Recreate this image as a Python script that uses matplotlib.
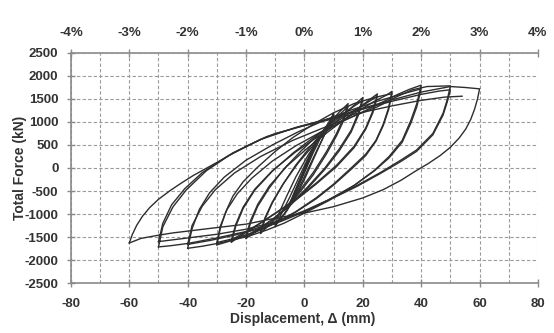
import matplotlib
matplotlib.use("Agg")
import matplotlib.pyplot as plt
from matplotlib.ticker import MultipleLocator, FuncFormatter

# Ciclos de carga: desplazamiento (mm) y fuerza total (kN)
d_c05a = [0, 2, 4, 5, 4, 2, 0, -2, -4, -5]
f_c05a = [0, 290, 560, 660, 520, 240, -40, -320, -630, -760]
d_c05b = [-5, -3, 0, 3, 5, 3, 0, -3, -5]
f_c05b = [-760, -460, -10, 420, 690, 380, -80, -520, -790]

d_c10a = [-5, -3, 0, 3, 6, 8, 10, 8.5, 6, 3, 0, -3, -6, -8, -10]
f_c10a = [-790, -520, -100, 330, 720, 950, 1180, 950, 600, 180, -250, -620, -930, -1100, -1260]
d_c10b = [-10, -8, -5, -2, 1, 4, 7, 10, 8, 5, 2, -1, -4, -7, -10]
f_c10b = [-1260, -1010, -630, -220, 180, 560, 870, 1120, 870, 480, 80, -320, -700, -1000, -1220]

d_c15a = [-10, -8.5, -6, -3, 1, 5, 9, 12, 15, 13.5, 11, 7.5, 3, -2, -7, -11, -15]
f_c15a = [-1220, -950, -600, -200, 250, 650, 1000, 1220, 1400, 1100, 750, 350, -100, -520, -900, -1170, -1420]
d_c15b = [-15, -13.5, -11, -7.5, -3, 2, 7, 11, 15, 13.5, 11, 7.5, 3, -2, -7, -11, -15]
f_c15b = [-1420, -1110, -760, -370, 60, 460, 840, 1100, 1340, 1040, 700, 300, -150, -560, -920, -1160, -1370]

d_c20a = [-15, -13.5, -11, -7, -2, 4, 10, 15, 18, 20, 18.5, 16, 12, 7, 1, -5, -11, -16, -20]
f_c20a = [-1370, -1080, -740, -320, 120, 560, 960, 1250, 1420, 1530, 1200, 820, 420, 0, -420, -800, -1120, -1350, -1530]
d_c20b = [-20, -18.5, -16, -12, -7, -1, 5, 11, 16, 20, 18.5, 16, 12, 7, 1, -5, -11, -16, -20]
f_c20b = [-1530, -1200, -830, -430, -20, 380, 740, 1060, 1300, 1470, 1150, 780, 380, -30, -450, -820, -1120, -1330, -1480]

d_c25a = [-20, -18.5, -16, -12, -6, 1, 8, 14, 19, 22, 25, 23.5, 21, 17, 11, 4, -3, -10, -16, -21, -25]
f_c25a = [-1480, -1150, -790, -390, 40, 430, 780, 1070, 1320, 1470, 1610, 1250, 870, 470, 60, -330, -680, -980, -1240, -1440, -1610]
d_c25b = [-25, -23.5, -21, -17, -11, -4, 3, 10, 16, 21, 25, 23.5, 21, 17, 11, 4, -3, -10, -16, -21, -25]
f_c25b = [-1610, -1260, -880, -480, -70, 320, 660, 960, 1210, 1400, 1560, 1210, 840, 440, 30, -350, -700, -990, -1230, -1420, -1560]

d_c30a = [-25, -23.5, -21, -17, -11, -3, 5, 12, 19, 24, 28, 30, 28.8, 27, 24.5, 21, 16, 10, 4, -3, -10, -17, -24, -30]
f_c30a = [-1560, -1220, -850, -460, -60, 350, 700, 990, 1260, 1450, 1580, 1665, 1300, 950, 600, 300, 0, -350, -650, -950, -1200, -1400, -1560, -1670]
d_c30b = [-30, -28.8, -27, -24.5, -21, -16, -10, -4, 3, 10, 17, 24, 28, 30, 28.8, 27, 24.5, 21, 16, 10, 4, -3, -10, -17, -24, -30]
f_c30b = [-1670, -1310, -960, -610, -300, 20, 360, 660, 950, 1200, 1400, 1530, 1590, 1610, 1260, 920, 580, 270, -30, -370, -670, -960, -1200, -1390, -1530, -1620]

d_c40a = [-30, -28.8, -26.5, -23, -18, -11, -3, 5, 12, 20, 27, 32, 36, 40,
          38.5, 36.5, 33.5, 29, 24, 17, 8, 0, -7, -13, -19, -29, -35, -40]
f_c40a = [-1620, -1260, -900, -560, -220, 150, 480, 760, 980, 1220, 1440, 1600, 1710, 1800,
          1400, 1040, 600, 250, -50, -380, -720, -980, -1200, -1350, -1480, -1630, -1700, -1745]
d_c40b = [-40, -38.5, -36, -32.5, -27.5, -20, -11, -2, 7, 16, 25, 33, 40,
          38.5, 36.5, 33.5, 29, 24, 17, 8, 0, -8, -16, -24, -32, -40]
f_c40b = [-1745, -1320, -900, -540, -200, 170, 500, 790, 1040, 1260, 1450, 1600, 1720,
          1330, 980, 560, 220, -60, -380, -700, -950, -1160, -1330, -1460, -1570, -1660]

d_c50a = [-40, -38.5, -35, -30.5, -24, -15, -4, 6, 15, 25, 32, 37, 42, 50,
          49, 47.5, 44, 38.4, 33, 26, 18, 8, 0, -10, -20, -30, -40, -46, -50]
f_c50a = [-1660, -1250, -830, -470, -110, 250, 600, 860, 1080, 1330, 1560, 1700, 1770, 1785,
          1500, 1190, 750, 390, 170, -100, -380, -700, -930, -1180, -1380, -1520, -1640, -1690, -1715]
d_c50b = [-50, -48.5, -45, -40.5, -33.6, -24.5, -13, -1.6, 10, 20, 30, 40, 46, 50,
          49, 47.5, 44, 38.4, 33, 26, 18, 8, 0, -10, -20, -30, -40, -50]
f_c50b = [-1715, -1276, -841, -478, -60, 330, 680, 900, 1090, 1280, 1450, 1600, 1670, 1700,
          1450, 1150, 720, 360, 140, -120, -400, -710, -940, -1170, -1330, -1440, -1520, -1600]

d_c60 = [-50, -48.5, -45.5, -41, -35, -26, -15, -3, 10, 20, 30, 40, 50, 55, 60,
         59.3, 58.3, 57, 55.3, 53, 50, 46.5, 42.5, 38, 33, 27, 20, 10, 0, -10, -20, -32, -45, -50, -56, -60]
f_c60 = [-1600, -1200, -800, -450, -100, 270, 620, 880, 1100, 1300, 1480, 1650, 1770, 1750, 1720,
         1500, 1280, 1060, 850, 650, 450, 270, 100, -70, -270, -470, -650, -840, -980, -1090, -1220, -1310, -1410, -1460, -1530, -1630]

# Ultima rama de recarga
d_final = [-60, -59, -57.5, -55.5, -53, -50, -46, -42, -38, -34, -30, -25, -20, -15, -10, 0, 10, 20, 30, 40, 48, 54]
f_final = [-1630, -1450, -1250, -1050, -860, -680, -490, -320, -160, -20, 120, 300, 470, 620, 750, 920, 1070, 1210, 1350, 1470, 1540, 1560]

ciclos = [(d_c05a, f_c05a), (d_c05b, f_c05b), (d_c10a, f_c10a), (d_c10b, f_c10b),
          (d_c15a, f_c15a), (d_c15b, f_c15b), (d_c20a, f_c20a), (d_c20b, f_c20b),
          (d_c25a, f_c25a), (d_c25b, f_c25b), (d_c30a, f_c30a), (d_c30b, f_c30b),
          (d_c40a, f_c40a), (d_c40b, f_c40b), (d_c50a, f_c50a), (d_c50b, f_c50b),
          (d_c60, f_c60), (d_final, f_final)]

deriva_ticks = [-4, -3, -2, -1, 0, 1, 2, 3, 4]  # deriva (%) en el eje superior

gris = "#8a8a8a"
texto = "#333333"
plt.rcParams["font.family"] = ["Liberation Sans", "DejaVu Sans"]
plt.rcParams["font.weight"] = "bold"
plt.rcParams["axes.unicode_minus"] = False

fig = plt.figure(figsize=(5.54, 3.33), dpi=100)
ax = fig.add_axes([0.128, 0.150, 0.843, 0.691])

for d, f in ciclos:
    ax.plot(d, f, color="#2e2e2e", linewidth=1.0, solid_joinstyle="round")

ax.set_xlim(-80, 80)
ax.set_ylim(-2500, 2500)
ax.xaxis.set_major_locator(MultipleLocator(20))
ax.xaxis.set_minor_locator(MultipleLocator(10))
ax.yaxis.set_major_locator(MultipleLocator(500))

# Rejilla discontinua
ax.grid(True, which="both", axis="x", color="#9a9a9a", linestyle=(0, (3, 2)), linewidth=0.8)
ax.grid(True, which="major", axis="y", color="#9a9a9a", linestyle=(0, (3, 2)), linewidth=0.8)
ax.set_axisbelow(True)

for lado in ["left", "bottom"]:
    ax.spines[lado].set_color(gris)
    ax.spines[lado].set_linewidth(1.2)
ax.spines["right"].set_visible(False)
ax.spines["top"].set_visible(False)

ax.tick_params(axis="both", which="major", direction="inout", length=6, width=1, color=gris,
               labelsize=9.5, labelcolor=texto)
ax.tick_params(axis="x", which="major", pad=8)
ax.tick_params(axis="y", which="major", pad=6)
ax.tick_params(axis="x", which="minor", length=0)

# Eje superior con la deriva en porcentaje
sec = ax.secondary_xaxis("top", functions=(lambda x: x / 20.0, lambda p: p * 20.0))
sec.set_xticks(deriva_ticks)
sec.xaxis.set_major_formatter(FuncFormatter(lambda v, pos: "%d%%" % round(v)))
sec.spines["top"].set_color(gris)
sec.spines["top"].set_linewidth(1.2)
sec.tick_params(direction="inout", length=6, width=1, color=gris, labelsize=9.5, labelcolor=texto, pad=7)

ax.set_xlabel("Displacement, \u0394 (mm)", fontsize=10, fontweight="bold", color=texto)
ax.set_ylabel("Total Force (kN)", fontsize=10, fontweight="bold", color=texto)
ax.xaxis.set_label_coords(0.497, -0.125)
ax.yaxis.set_label_coords(-0.094, 0.5)

fig.savefig("out.png", dpi=100)
